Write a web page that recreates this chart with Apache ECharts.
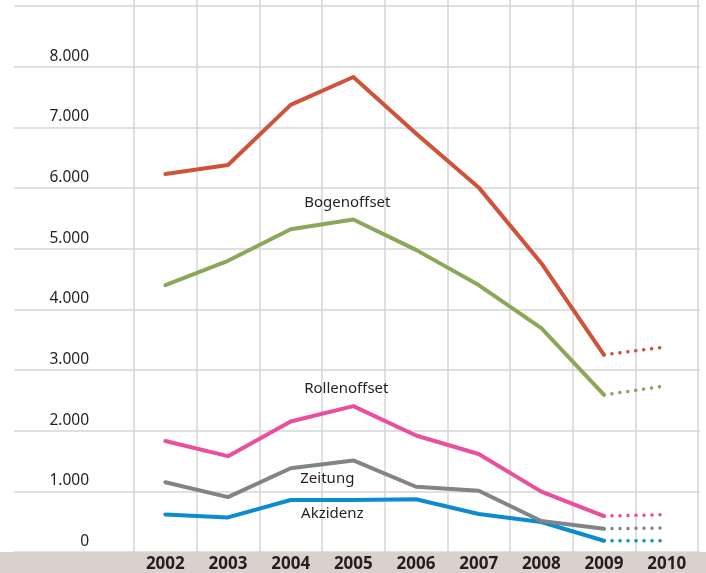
<!DOCTYPE html>
<html>
<head>
<meta charset="utf-8">
<script src="https://cdn.jsdelivr.net/npm/echarts@6/dist/echarts.min.js"></script>
<style>
html,body{margin:0;padding:0;background:#fff;}
#chart{width:706px;height:573px;}
</style>
</head>
<body>
<div id="chart"></div>
<script>
// ---- data ----
var years = ['2002','2003','2004','2005','2006','2007','2008','2009','2010'];
var gesamt   = [6230, 6380, 7370, 7830, 6900, 6010, 4760, 3250, 3380];
var bogen    = [4400, 4800, 5320, 5480, 4980, 4400, 3690, 2590, 2740];
var rollen   = [1830, 1580, 2150, 2405, 1920, 1615, 995, 593, 615];
var zeitung  = [1150, 905, 1380, 1510, 1076, 1010, 510, 385, 395];
var akzidenz = [620, 570, 857, 857, 870, 626, 495, 186, 186];
var yTickLabels = ['0','1.000','2.000','3.000','4.000','5.000','6.000','7.000','8.000',''];
var seriesNames = ['Gesamt','Bogenoffset','Rollenoffset','Zeitung','Akzidenz'];
var labelledSeries = ['', 'Bogenoffset', 'Rollenoffset', 'Zeitung', 'Akzidenz'];
var projectionStart = 7; // index of 2009: dotted from here

var FONT = '"Noto Sans", "Open Sans", sans-serif';
var colors = ['#cf523a', '#8ba85a', '#ea4f9c', '#808587', '#0d8bd1'];
var labelOffsets = [null, [-6,-17], [-7,-17], [-26,18], [-21,14]];
var allData = [gesamt, bogen, rollen, zeitung, akzidenz];

var series = [];
allData.forEach(function(arr, k){
  var solid = arr.map(function(v,i){ return i <= projectionStart ? v : null; });
  var dotted = arr.map(function(v,i){ return i >= projectionStart ? v : null; });
  var s = {
    name: seriesNames[k], type: 'line', xAxisIndex: 1, yAxisIndex: 1,
    data: solid, showSymbol: false, symbol: 'none', silent: true,
    lineStyle: { color: colors[k], width: 4, cap: 'round', join: 'round' },
    z: 10 - k
  };
  if (labelledSeries[k]) {
    s.markPoint = {
      symbol: 'circle', symbolSize: 0, silent: true,
      data: [{ coord: [years[3], arr[3]],
        label: { show: true, formatter: labelledSeries[k], offset: labelOffsets[k],
          color: '#231f20', fontSize: 15, fontFamily: FONT } }]
    };
  }
  series.push(s);
  series.push({
    name: seriesNames[k] + ' Prognose', type: 'line', xAxisIndex: 1, yAxisIndex: 1,
    data: dotted, showSymbol: false, symbol: 'none', silent: true,
    lineStyle: { color: colors[k], width: 3.5, type: [0.1, 7.9], cap: 'round' },
    z: 10 - k
  });
});

var chart = echarts.init(document.getElementById('chart'), null, {renderer: 'canvas'});
chart.setOption({
  animation: false,
  backgroundColor: '#ffffff',
  graphic: [{
    type: 'rect', left: 0, bottom: 0, z: -10,
    shape: { width: 706, height: 21 },
    style: { fill: '#d8d1ce' }
  }],
  grid: [
    { left: 14, right: 6, top: 6, bottom: 21 },   // horizontal grid lines
    { left: 134, right: 8, top: 6, bottom: 21 },  // data
    { left: 134, right: 8, top: 0, bottom: 21 }   // vertical grid lines
  ],
  xAxis: [
    { gridIndex: 0, type: 'value', show: false },
    { gridIndex: 1, type: 'category', data: years, boundaryGap: true,
      axisLine: {show: false}, axisTick: {show: false}, splitLine: {show: false},
      axisLabel: { color: '#231f20', fontSize: 17, fontWeight: 'bold', fontFamily: FONT, margin: 4 } },
    { gridIndex: 2, type: 'category', data: years, boundaryGap: true,
      axisLine: {show: false}, axisTick: {show: false}, axisLabel: {show: false},
      splitLine: { show: true, lineStyle: { color: '#d6d6d6', width: 1.5 } } }
  ],
  yAxis: [
    { gridIndex: 0, type: 'value', min: 0, max: 9000, interval: 1000,
      axisLine: {show:false}, axisTick: {show:false}, axisLabel: {show:false},
      splitLine: { show: true, lineStyle: { color: '#d6d6d6', width: 1.5 } } },
    { gridIndex: 1, type: 'value', min: 0, max: 9000, interval: 1000,
      axisLine: {show:false}, axisTick: {show:false}, splitLine: {show:false},
      axisLabel: { color: '#231f20', fontSize: 15.5, fontFamily: FONT, margin: 45,
        verticalAlign: 'bottom', lineHeight: 21,
        formatter: function(v){ return yTickLabels[Math.round(v/1000)]; } } },
    { gridIndex: 2, type: 'value', show: false }
  ],
  series: series
});
</script>
</body>
</html>
